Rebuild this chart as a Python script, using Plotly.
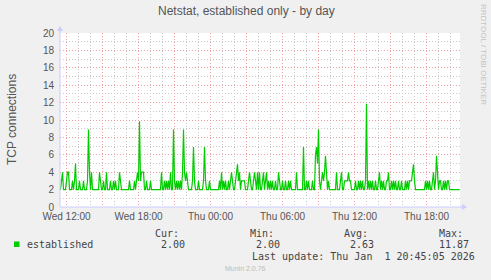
import plotly.graph_objects as go
import pandas as pd

title_text = "Netstat, established only - by day"
y_label = "TCP connections"
series_name = "established"
start_time = "2025-12-31 11:30"
step_minutes = 5

# one value per 5 minutes, one row per hour (starting 11:30 Wed)
established = [
    2, 3, 4, 2, 2, 2, 3, 4, 4, 2, 2, 2,
    3, 2, 3, 5, 2, 2, 2, 3, 2, 2, 2, 3,
    2, 2, 2, 3, 8.9, 4, 2, 4, 2, 2, 2, 2,
    2, 2, 2, 4, 3, 2, 2, 3, 2, 2, 4, 2,
    2, 2, 3, 2, 2, 3, 2, 3, 2, 2, 2, 4,
    3, 2, 2, 2, 2, 2, 2, 2, 2, 3, 2, 2,
    2, 2, 3, 2, 3, 4, 3, 9.85, 3, 4, 4, 4,
    2, 2, 3, 2, 2, 2, 3, 2, 2, 2, 2, 2,
    2, 2, 2, 2, 2, 4, 2, 2, 3, 2, 3, 2,
    3, 2, 4, 2, 2, 8.9, 3, 2, 3, 2, 3, 2,
    3, 2, 4, 8.9, 4, 3, 4, 3, 2, 2, 2, 2,
    3, 6.9, 3, 2, 2, 2, 3, 2, 2, 2, 2, 3,
    6.9, 3, 2, 2, 2, 3, 2, 2, 2, 2, 2, 2,
    2, 2, 2, 3, 2, 4, 2, 3, 2, 3, 2, 2,
    3, 2, 3, 4, 3, 2, 2, 3, 4, 4.9, 3, 4,
    2, 3, 3, 3, 3, 2, 2, 2, 3, 4, 3, 2,
    2, 3, 4, 3, 2, 4, 2, 4, 2, 2, 3, 4,
    2, 3, 4, 2, 3, 2, 3, 2, 3, 2, 2, 3,
    2, 2, 4, 3, 2, 2, 3, 2, 2, 3, 2, 2,
    3, 2, 3, 2, 2, 2, 2, 2, 4, 2, 2, 2,
    2, 2, 2, 6.9, 2, 2, 3, 2, 3, 2, 2, 2,
    3, 2, 2, 6, 6.9, 5, 8.9, 3, 2, 3, 4, 3,
    4, 5.9, 3, 2, 3, 2, 2, 2, 2, 2, 2, 2,
    4, 2, 2, 2, 3, 4, 2, 2, 3, 3, 3, 3,
    4, 3, 3, 2, 2, 2, 2, 3, 2, 2, 3, 2,
    3, 2, 3, 2, 2, 3, 11.87, 2, 3, 2, 3, 2,
    3, 2, 2, 3, 2, 2, 3, 4, 2, 3, 2, 3,
    2, 2, 3, 3, 4, 2, 2, 3, 2, 3, 2, 3,
    2, 2, 3, 2, 2, 3, 2, 2, 2, 3, 2, 3,
    2, 3, 3, 3, 4, 4.9, 3, 2, 2, 2, 2, 2,
    2, 2, 2, 2, 2, 3, 2, 3, 2, 3, 2, 2,
    3, 4, 2, 3, 5.9, 3, 2, 3, 3, 2, 2, 3,
    2, 3, 2, 3, 3, 2, 2, 2, 2, 2, 2, 2,
    2, 2, 2, 2,
]

x_tick_times = [
    "2025-12-31 12:00", "2025-12-31 15:00", "2025-12-31 18:00", "2025-12-31 21:00",
    "2026-01-01 00:00", "2026-01-01 03:00", "2026-01-01 06:00", "2026-01-01 09:00",
    "2026-01-01 12:00", "2026-01-01 15:00", "2026-01-01 18:00",
]
x_tick_labels = [
    "Wed 12:00", "", "Wed 18:00", "", "Thu 00:00", "", "Thu 06:00", "",
    "Thu 12:00", "", "Thu 18:00",
]
y_tick_values = [0, 2, 4, 6, 8, 10, 12, 14, 16, 18, 20]

stats_headers = ["Cur:", "Min:", "Avg:", "Max:"]
stats_values = ["2.00", "2.00", "2.63", "11.87"]
last_update = "Last update: Thu Jan\u00a0 1 20:45:05 2026"
side_text = "RRDTOOL / TOBI OETIKER"
footer_text = "Munin 2.0.76"

times = pd.date_range(start_time, periods=len(established), freq=f"{step_minutes}min")
x_range = [times[0] - pd.Timedelta(minutes=2.5), times[-1] + pd.Timedelta(minutes=2.5)]

W, H = 491, 280
L, R, T, B = 60, 31, 33, 73
PW, PH = W - L - R, H - T - B


def px(X):
    return (X - L) / PW


def py(Y):
    return (T + PH - Y) / PH


fig = go.Figure()
fig.add_trace(go.Scatter(
    x=times, y=established, mode="lines",
    line=dict(color="#00CC00", width=1.2, shape="linear"),
    name=series_name, showlegend=False, hoverinfo="skip",
))

tick_font = dict(family="Liberation Sans, Arial, sans-serif", size=10, color="#555555")
axis_col = "#CCCCFF"
major_col = "#F0A0A0"
minor_col = "#C8C8C8"
dots = "1px,2px"

fig.update_layout(
    width=W, height=H,
    margin=dict(l=L, r=R, t=T, b=B, pad=0),
    paper_bgcolor="#F0F0F0", plot_bgcolor="#FFFFFF",
    showlegend=False,
    xaxis=dict(
        type="date", range=x_range,
        tickmode="array", tickvals=x_tick_times, ticktext=x_tick_labels,
        showgrid=True, gridcolor=major_col, griddash=dots, gridwidth=1,
        minor=dict(dtick=3600000, tick0="2025-12-31 12:00", showgrid=True,
                   gridcolor=minor_col, griddash=dots, gridwidth=1),
        showline=False, zeroline=False, ticks="", tickfont=tick_font,
        ticklabelstandoff=2,
    ),
    yaxis=dict(
        range=[0, 20], tickmode="array", tickvals=y_tick_values,
        showgrid=True, gridcolor=major_col, griddash=dots, gridwidth=1,
        minor=dict(dtick=1, tick0=0, showgrid=True, gridcolor=minor_col,
                   griddash=dots, gridwidth=1),
        showline=False, zeroline=False, ticks="", tickfont=tick_font,
        ticklabelstandoff=5,
    ),
)

# axes with arrow heads (RRDtool style)
shapes = [
    dict(type="line", xref="paper", yref="paper", x0=px(L), x1=px(463), y0=py(207), y1=py(207),
         line=dict(color=axis_col, width=1), layer="above"),
    dict(type="path", xref="paper", yref="paper",
         path=f"M {px(462)} {py(204)} L {px(467)} {py(207)} L {px(462)} {py(210)} Z",
         fillcolor=axis_col, line=dict(color=axis_col, width=0), layer="above"),
    dict(type="line", xref="paper", yref="paper", x0=px(L), x1=px(L), y0=py(207), y1=py(30),
         line=dict(color=axis_col, width=1), layer="above"),
    dict(type="path", xref="paper", yref="paper",
         path=f"M {px(57)} {py(31)} L {px(60)} {py(26)} L {px(63)} {py(31)} Z",
         fillcolor=axis_col, line=dict(color=axis_col, width=0), layer="above"),
    dict(type="rect", xref="paper", yref="paper", x0=px(14), x1=px(19.5), y0=py(247), y1=py(241.5),
         fillcolor="#00CC00", line=dict(width=0)),
]
fig.update_layout(shapes=shapes)

mono = "DejaVu Sans Mono, monospace"
annos = [
    dict(text=title_text, x=px(246), y=py(11), xanchor="center", yanchor="middle",
         font=dict(family="Liberation Sans, Arial, sans-serif", size=12, color="#555555")),
    dict(text=y_label, x=px(12), y=py(120), xanchor="center", yanchor="middle", textangle=-90,
         font=dict(family="Liberation Sans, Arial, sans-serif", size=12, color="#555555")),
    dict(text=side_text, x=px(484), y=py(54), xanchor="center", yanchor="middle", textangle=90,
         font=dict(family="Liberation Sans, Arial, sans-serif", size=8, color="#C4C4C4")),
    dict(text=series_name, x=px(25), y=py(244), xanchor="left", yanchor="middle",
         font=dict(family=mono, size=10, color="#444444")),
    dict(text=last_update, x=px(477), y=py(256.5), xanchor="right", yanchor="middle",
         font=dict(family=mono, size=10, color="#444444")),
    dict(text=footer_text, x=px(245), y=py(268), xanchor="center", yanchor="middle",
         font=dict(family="Liberation Sans, Arial, sans-serif", size=7, color="#BBBBBB")),
]
header_right = [181, 276, 370, 465]
value_right = [187, 282, 376, 471]
for h, v, hr, vr in zip(stats_headers, stats_values, header_right, value_right):
    annos.append(dict(text=h, x=px(hr), y=py(233), xanchor="right", yanchor="middle",
                      font=dict(family=mono, size=10, color="#444444")))
    annos.append(dict(text=v, x=px(vr), y=py(244.5), xanchor="right", yanchor="middle",
                      font=dict(family=mono, size=10, color="#444444")))
for a in annos:
    a.update(xref="paper", yref="paper", showarrow=False)
fig.update_layout(annotations=annos)

fig.write_html("out.html")
